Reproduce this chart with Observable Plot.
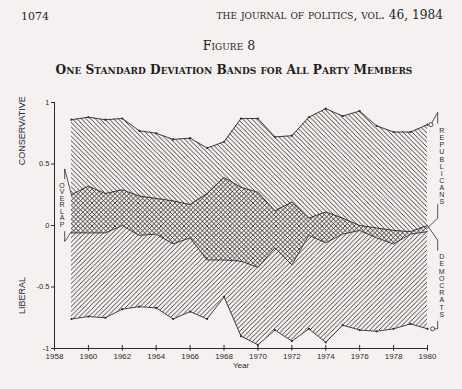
<!DOCTYPE html>
<html><head><meta charset="utf-8">
<script src="https://cdn.jsdelivr.net/npm/d3@7"></script>
<script src="https://cdn.jsdelivr.net/npm/@observablehq/plot@0.6"></script>
<style>
html,body{margin:0;padding:0;background:#f6f1f1;}
#page{width:462px;height:389px;overflow:hidden;background:#f6f1f1;}
svg{display:block}
</style></head><body><div id="page"></div>
<script>
// ---- data ----
const years      = [1959,1960,1961,1962,1963,1964,1965,1966,1967,1968,1969,1970,1971,1972,1973,1974,1975,1976,1977,1978,1979,1980];
const repUpper   = [0.86,0.88,0.86,0.87,0.77,0.75,0.70,0.71,0.63,0.68,0.87,0.87,0.72,0.73,0.88,0.95,0.89,0.93,0.81,0.76,0.76,0.82];
const repLower   = [-0.06,-0.06,-0.06,0.00,-0.08,-0.07,-0.15,-0.10,-0.28,-0.28,-0.29,-0.34,-0.18,-0.32,-0.08,-0.14,-0.07,-0.04,-0.10,-0.15,-0.07,-0.05];
const demUpper   = [0.25,0.32,0.26,0.29,0.24,0.22,0.20,0.17,0.26,0.39,0.31,0.27,0.12,0.19,0.06,0.11,0.06,0.00,-0.02,-0.04,-0.05,0.00];
const demLower   = [-0.76,-0.74,-0.75,-0.68,-0.66,-0.67,-0.76,-0.70,-0.76,-0.58,-0.90,-0.97,-0.85,-0.94,-0.84,-0.95,-0.81,-0.85,-0.86,-0.84,-0.80,-0.84];
const xTicks     = [1958,1960,1962,1964,1966,1968,1970,1972,1974,1976,1978,1980];
const yTicks     = [-1,-0.5,0,0.5,1];
const pageNumber = "1074";
const runningHead = "the journal of politics, vol. 46, 1984";
const figureLabel = "Figure 8";
const figureTitle = "One Standard Deviation Bands for All Party Members";
const sideLabels = ["REPUBLICANS","DEMOCRATS","OVERLAP"];
const axisLabels = ["CONSERVATIVE","LIBERAL"];

// ---- build ----
const rows = years.map((year, i) => ({year, repUpper: repUpper[i], repLower: repLower[i], demUpper: demUpper[i], demLower: demLower[i]}));
const L = years.length - 1;
const ink = "#2a2a2a";
const hatchInk = "#2f302b";
const serif = "'DejaVu Serif', 'Liberation Serif', serif";
const sans = "'Liberation Sans', Arial, sans-serif";
const stack = s => s.split("").join("\n");

const page = document.getElementById("page");
const head = d3.create("svg").attr("width", 462).attr("height", 88);
head.append("text").attr("x", 21).attr("y", 20).attr("font-family", serif).attr("font-size", 11).attr("fill", "#1e1e1e").text(pageNumber);
head.append("text").attr("x", 443).attr("y", 18.5).attr("text-anchor", "end").attr("font-family", serif).attr("font-size", 12.2).attr("fill", "#1e1e1e").style("font-variant", "small-caps").text(runningHead);
head.append("text").attr("x", 229).attr("y", 50).attr("text-anchor", "middle").attr("font-family", serif).attr("font-size", 12.6).attr("fill", "#1e1e1e").style("font-variant", "small-caps").text(figureLabel);
head.append("text").attr("x", 234).attr("y", 74).attr("text-anchor", "middle").attr("font-family", serif).attr("font-size", 12.2).attr("font-weight", "bold").attr("fill", "#1e1e1e").style("font-variant", "small-caps").text(figureTitle);
page.appendChild(head.node());

const bX = 1980.6, oX = 1958.6;
const rTop = [{x: 1980.2, y: repUpper[L]}, {x: bX, y: repUpper[L] + 0.10}, {x: bX, y: repUpper[L] + 0.01}];
const rBot = [{x: bX, y: 0.17}, {x: bX, y: 0.06}, {x: 1980, y: repLower[L] + 0.03}];
const dTop = [{x: 1980, y: demUpper[L]}, {x: bX, y: -0.12}, {x: bX, y: -0.20}];
const dBot = [{x: bX, y: -0.78}, {x: bX, y: demLower[L]}, {x: 1980.3, y: demLower[L]}];
const oTop = [{x: 1959, y: demUpper[0]}, {x: oX, y: 0.46}, {x: oX, y: 0.38}];
const oBot = [{x: oX, y: -0.05}, {x: oX, y: -0.13}, {x: 1959, y: repLower[0] + 0.01}];
const seg = pts => Plot.line(pts, {x: "x", y: "y", stroke: ink, strokeWidth: 0.8});

const plot = Plot.plot({
  width: 462, height: 301,
  marginTop: 14, marginBottom: 41, marginLeft: 54, marginRight: 35,
  x: {domain: [1958, 1980]},
  y: {domain: [-1, 1]},
  style: {background: "transparent", fontFamily: sans, fontSize: "8px", color: "#2a2a2a", overflow: "visible"},
  marks: [
    Plot.areaY(rows, {x: "year", y1: "demLower", y2: "demUpper", fill: "url(#hatchD)"}),
    Plot.areaY(rows, {x: "year", y1: "repLower", y2: "repUpper", fill: "url(#hatchR)"}),
    Plot.line(rows, {x: "year", y: "repUpper", stroke: ink, strokeWidth: 0.9}),
    Plot.line(rows, {x: "year", y: "repLower", stroke: ink, strokeWidth: 0.9}),
    Plot.line(rows, {x: "year", y: "demUpper", stroke: ink, strokeWidth: 0.9}),
    Plot.line(rows, {x: "year", y: "demLower", stroke: ink, strokeWidth: 0.9}),
    Plot.dot(rows, {x: "year", y: "repUpper", r: 1.1, fill: ink}),
    Plot.dot(rows, {x: "year", y: "demLower", r: 1.1, fill: ink}),
    Plot.ruleX([1958], {stroke: ink, strokeWidth: 1}),
    Plot.ruleY([-1], {stroke: ink, strokeWidth: 1}),
    Plot.ruleX(xTicks, {y1: -1.022, y2: -0.975, stroke: ink}),
    Plot.axisY({ticks: yTicks, tickSize: 3, tickPadding: 2, tickFormat: d => d < 0 ? "-" + Math.abs(d) : String(d), label: null, fontSize: 7.5}),
    Plot.axisX({ticks: xTicks, tickSize: 0, tickPadding: 5, tickFormat: d => String(d), label: "Year", labelArrow: "none", labelAnchor: "center", labelOffset: 19, fontSize: 8}),
    seg(rTop), seg(rBot), seg(dTop), seg(dBot), seg(oTop), seg(oBot),
    Plot.dot([rTop[0], dBot[2]], {x: "x", y: "y", r: 2, stroke: ink, fill: "#f6f1f1", strokeWidth: 0.8}),
    Plot.text([stack(sideLabels[0])], {x: 1980.84, y: 0.48, text: d => d, fontSize: 7, lineHeight: 1.02, fill: ink}),
    Plot.text([stack(sideLabels[1])], {x: 1980.84, y: -0.49, text: d => d, fontSize: 7, lineHeight: 1.03, fill: ink}),
    Plot.text([stack(sideLabels[2])], {x: 1958.44, y: 0.167, text: d => d, fontSize: 7, lineHeight: 0.93, fill: ink}),
    Plot.text([axisLabels[0]], {frameAnchor: "left", dx: -32, y: 0.49, text: d => d, rotate: -90, fontSize: 9, fill: ink}),
    Plot.text([axisLabels[1]], {frameAnchor: "left", dx: -32, y: -0.72, text: d => d, rotate: -90, fontSize: 9, fill: ink})
  ]
});

const svg = d3.select(plot);
const defs = svg.insert("defs", ":first-child");
const s = 4.6;
function hatch(id, d) {
  const p = defs.append("pattern").attr("id", id).attr("patternUnits", "userSpaceOnUse").attr("width", s).attr("height", s);
  p.append("path").attr("d", d).attr("stroke", hatchInk).attr("stroke-width", 0.9).attr("fill", "none");
}
hatch("hatchR", `M0,0L${s},${s}M${-s/2},${s/2}L${s/2},${s*1.5}M${s/2},${-s/2}L${s*1.5},${s/2}`);
hatch("hatchD", `M0,${s}L${s},0M${-s/2},${s/2}L${s/2},${-s/2}M${s/2},${s*1.5}L${s*1.5},${s/2}`);
page.appendChild(plot);
</script></body></html>
